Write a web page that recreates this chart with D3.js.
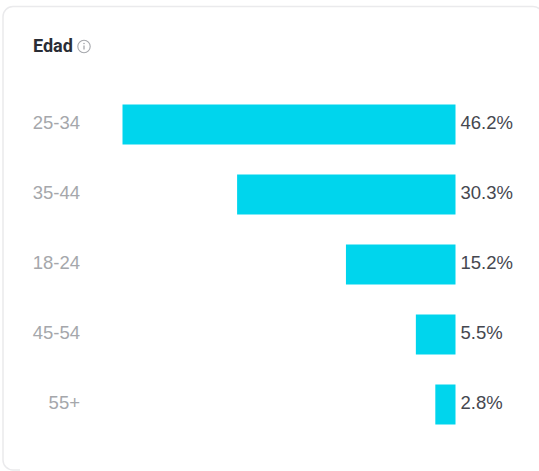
<!DOCTYPE html>
<html><head><meta charset="utf-8">
<script src="https://cdn.jsdelivr.net/npm/d3@7/dist/d3.min.js"></script>
<style>html,body{margin:0;padding:0;background:#fff}svg{display:block}</style></head>
<body><svg id="c" width="539" height="471"></svg>
<script>
const categories = ["25-34","35-44","18-24","45-54","55+"];
const values = [46.2,30.3,15.2,5.5,2.8];
const valueLabels = ["46.2%","30.3%","15.2%","5.5%","2.8%"];
const title = "Edad";

const svg = d3.select("#c");
svg.append("rect").attr("x",3).attr("y",6.5).attr("width",540).attr("height",463.5).attr("rx",10)
  .attr("fill","#fff").attr("stroke","#eaeaec").attr("stroke-width",1.5);
svg.append("rect").attr("x",20).attr("y",467).attr("width",519).attr("height",4).attr("fill","#fff");

svg.append("text").attr("x",33).attr("y",51.5).attr("font-family","Roboto, sans-serif")
  .attr("font-size",18).attr("font-weight",700).attr("fill","#2a2d35").text(title);
const info = svg.append("g").attr("transform","translate(84,46.5)");
info.append("circle").attr("r",6.2).attr("fill","none").attr("stroke","#a6a8ad").attr("stroke-width",1.1);
info.append("line").attr("y1",-1).attr("y2",3).attr("stroke","#a6a8ad").attr("stroke-width",1.3);
info.append("circle").attr("cy",-3).attr("r",0.8).attr("fill","#a6a8ad");

const x = d3.scaleLinear().domain([0,46.2]).range([0,333]);
const y = d3.scaleBand().domain(categories).range([89.5,439.5]).paddingInner(30/70).paddingOuter(15/70);
const right = 455.5;

const rows = svg.selectAll("g.row").data(categories).join("g").attr("class","row");
rows.append("rect")
  .attr("x",(d,i)=>right-x(values[i])).attr("y",d=>y(d))
  .attr("width",(d,i)=>x(values[i])).attr("height",y.bandwidth())
  .attr("fill","#00d5ed");
rows.append("text").attr("x",80).attr("y",d=>y(d)+y.bandwidth()/2+4.5)
  .attr("text-anchor","end").attr("font-family","'Liberation Sans', Arial, sans-serif").attr("font-size",18.5)
  .attr("fill","#a5a7ab").text(d=>d);
rows.append("text").attr("x",460.5).attr("y",d=>y(d)+y.bandwidth()/2+4.5)
  .attr("font-family","'Liberation Sans', Arial, sans-serif").attr("font-size",18.5)
  .attr("fill","#45474f").text((d,i)=>valueLabels[i]);
</script></body></html>
